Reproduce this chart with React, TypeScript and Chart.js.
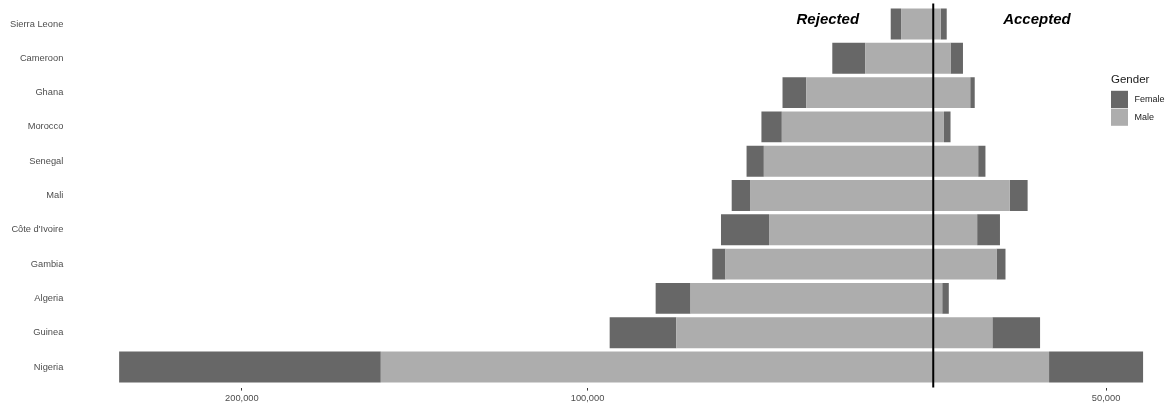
import React, { useEffect, useRef } from "react";
import { Chart, registerables } from "chart.js";

Chart.register(...registerables);

const countries = [
  "Sierra Leone",
  "Cameroon",
  "Ghana",
  "Morocco",
  "Senegal",
  "Mali",
  "Côte d'Ivoire",
  "Gambia",
  "Algeria",
  "Guinea",
  "Nigeria",
];

const maleRejected = [9300, 19700, 36700, 43800, 49000, 53000, 47500, 60100, 70200, 74300, 159800];
const femaleRejected = [3000, 9500, 6900, 5900, 5000, 5300, 13900, 3800, 10100, 19300, 75700];
const maleAccepted = [2200, 5000, 10700, 3100, 13000, 22100, 12700, 18300, 2600, 17100, 33500];
const femaleAccepted = [1700, 3600, 1300, 1900, 2100, 5200, 6600, 2600, 1900, 13800, 27200];

const xTickValues = [-200000, -100000, 50000];
const sideLabels = ["Rejected", "Accepted"];
const sideLabelX = [-30500, 30000];
const legendTitle = "Gender";
const legendItems = ["Female", "Male"];

const FEMALE_COLOR = "#676767";
const MALE_COLOR = "#ADADAD";
const FONT = "'Liberation Sans', Arial, sans-serif";

export default function App() {
  const canvasRef = useRef<HTMLCanvasElement | null>(null);

  useEffect(() => {
    const canvas = canvasRef.current;
    if (!canvas) return;

    const toPoints = (vals: number[], sign: number) =>
      vals.map((v, i) => ({ x: sign * v, y: i }));

    const overlay = {
      id: "overlay",
      afterDatasetsDraw(chart: any) {
        const { ctx, chartArea, scales } = chart;
        const xs = scales.x;
        const ys = scales.y;
        ctx.save();
        // zero line
        const x0 = xs.getPixelForValue(0);
        ctx.strokeStyle = "#000000";
        ctx.lineWidth = 2;
        ctx.beginPath();
        ctx.moveTo(x0, chartArea.top);
        ctx.lineTo(x0, chartArea.bottom);
        ctx.stroke();

        // side annotations
        ctx.fillStyle = "#000000";
        ctx.font = `italic bold 15px ${FONT}`;
        ctx.textAlign = "center";
        ctx.textBaseline = "alphabetic";
        const yb = ys.getPixelForValue(0);
        sideLabels.forEach((t, i) => {
          ctx.fillText(t, xs.getPixelForValue(sideLabelX[i]), yb);
        });

        // legend
        const lx = 1111;
        ctx.textAlign = "left";
        ctx.font = `11.5px ${FONT}`;
        ctx.fillStyle = "#1A1A1A";
        ctx.fillText(legendTitle, lx, 83.3);
        const colors = [FEMALE_COLOR, MALE_COLOR];
        legendItems.forEach((t, i) => {
          const top = 90.8 + i * 17.8;
          ctx.fillStyle = colors[i];
          ctx.fillRect(lx, top, 17, 17.2);
          ctx.fillStyle = "#1A1A1A";
          ctx.font = `9px ${FONT}`;
          ctx.textBaseline = "middle";
          ctx.fillText(t, lx + 23.5, top + 8.8);
          ctx.textBaseline = "alphabetic";
        });
        ctx.restore();
      },
    };

    const chart = new Chart(canvas, {
      type: "bar",
      data: {
        datasets: [
          {
            label: "Male rejected",
            data: toPoints(maleRejected, -1) as any,
            backgroundColor: MALE_COLOR,
            borderWidth: 0,
          },
          {
            label: "Male accepted",
            data: toPoints(maleAccepted, 1) as any,
            backgroundColor: MALE_COLOR,
            borderWidth: 0,
          },
          {
            label: "Female rejected",
            data: toPoints(femaleRejected, -1) as any,
            backgroundColor: FEMALE_COLOR,
            borderWidth: 0,
          },
          {
            label: "Female accepted",
            data: toPoints(femaleAccepted, 1) as any,
            backgroundColor: FEMALE_COLOR,
            borderWidth: 0,
          },
        ],
      },
      options: {
        indexAxis: "y",
        animation: false,
        responsive: true,
        maintainAspectRatio: false,
        barPercentage: 0.9,
        categoryPercentage: 1.0,
        layout: { padding: { top: 3.4, right: 8, bottom: 0, left: 0 } },
        plugins: {
          legend: { display: false },
          tooltip: { enabled: false },
        },
        scales: {
          x: {
            type: "linear",
            stacked: true,
            offset: false,
            min: -250000,
            max: 67330,
            border: { display: false },
            grid: {
              drawOnChartArea: false,
              drawTicks: true,
              tickLength: 3,
              color: "#333333",
              offset: false,
            },
            afterBuildTicks: (scale: any) => {
              scale.ticks = xTickValues.map((v) => ({ value: v }));
            },
            afterFit: (scale: any) => {
              scale.height = 19.4;
              scale.paddingLeft = 0;
              scale.paddingRight = 0;
            },
            ticks: {
              padding: 2,
              color: "#4D4D4D",
              font: { family: FONT, size: 9.3 },
              maxRotation: 0,
              autoSkip: false,
              callback: (v: any) => Math.abs(Number(v)).toLocaleString("en-US"),
            },
          },
          y: {
            type: "linear",
            stacked: true,
            reverse: true,
            offset: false,
            min: -0.6,
            max: countries.length - 1 + 0.6,
            border: { display: false },
            grid: { display: false, drawTicks: false, offset: false },
            afterBuildTicks: (scale: any) => {
              scale.ticks = countries.map((_, i) => ({ value: i }));
            },
            afterFit: (scale: any) => {
              scale.width = 69;
              scale.paddingTop = 0;
              scale.paddingBottom = 0;
            },
            ticks: {
              padding: 5.7,
              color: "#4D4D4D",
              font: { family: FONT, size: 9.3 },
              autoSkip: false,
              callback: (v: any) => countries[Number(v)] ?? "",
            },
          },
        },
      },
      plugins: [overlay],
    } as any);

    return () => {
      chart.destroy();
    };
  }, []);

  return (
    <div
      style={{
        position: "fixed",
        left: 0,
        top: 0,
        width: "1174px",
        height: "407px",
        background: "#ffffff",
      }}
    >
      <canvas ref={canvasRef} />
    </div>
  );
}
